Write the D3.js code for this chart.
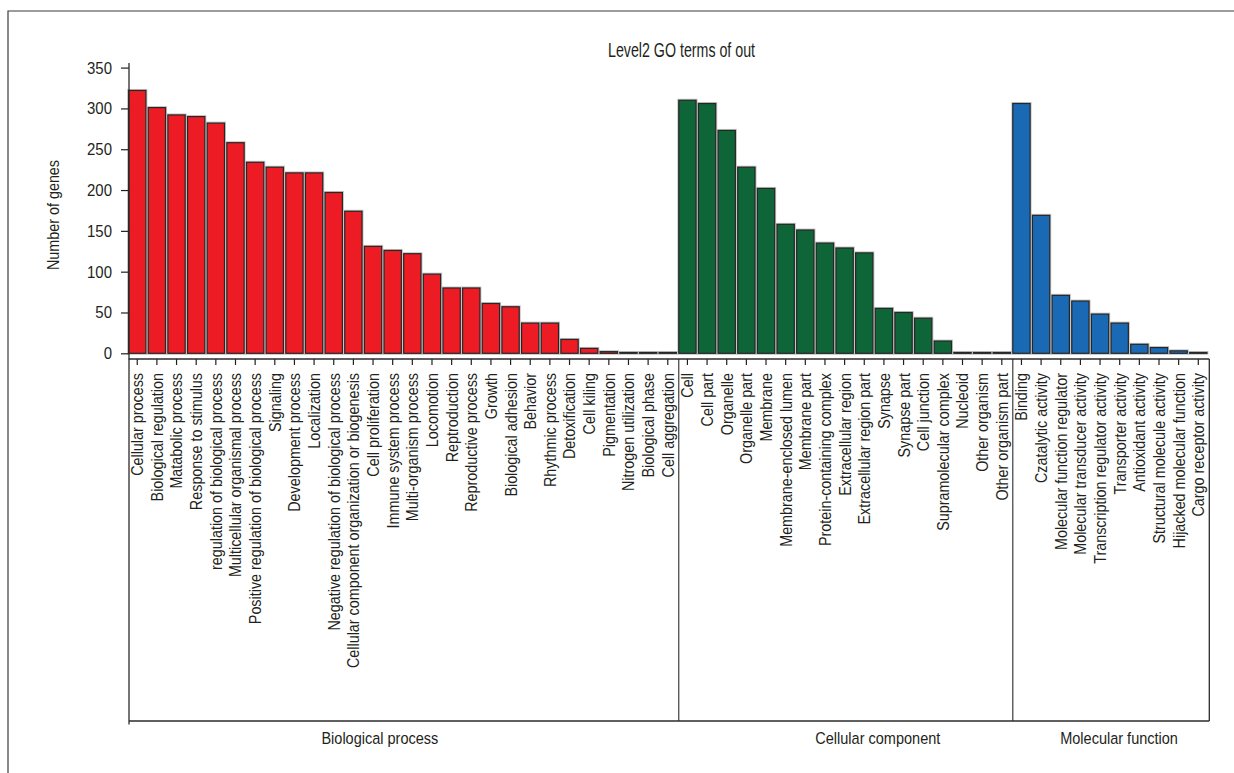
<!DOCTYPE html>
<html>
<head>
<meta charset="utf-8">
<script src="https://cdn.jsdelivr.net/npm/d3@7"></script>
<style>
  html, body { margin: 0; padding: 0; background: #fff; }
  svg { display: block; }
  text { font-family: 'Liberation Sans', Arial, sans-serif; fill: #231f20; }
</style>
</head>
<body>
<svg id="chart" width="1234" height="773"></svg>
<script>
// GO level-2 term counts, one pair of arrays per ontology
const bpTerms = [
  "Cellular process", "Biological regulation", "Matabolic process", "Response to stimulus",
  "regulation of biological process", "Multicellular organismal process",
  "Positive regulation of biological process", "Signaling", "Development process", "Localization",
  "Negative regulation of biological process", "Cellular component organization or biogenesis",
  "Cell proliferation", "Immune system process", "Multi-organism process", "Locomotion",
  "Reptroduction", "Reproductive process", "Growth", "Biological adhesion", "Behavior",
  "Rhythmic process", "Detoxification", "Cell kiling", "Pigmentation", "Nitrogen utilization",
  "Biological phase", "Cell aggregation"
];
const bpCounts = [322, 301, 292, 290, 282, 258, 234, 228, 221, 221, 197, 174, 131, 126, 122, 97,
  80, 80, 61, 57, 37, 37, 17, 6, 2, 1, 1, 1];

const ccTerms = [
  "Cell", "Cell part", "Organelle", "Organelle part", "Membrane", "Membrane-enclosed lumen",
  "Membrane part", "Protein-containing complex", "Extracellular region", "Extracellular region part",
  "Synapse", "Synapse part", "Cell junction", "Supramolecular complex", "Nucleoid",
  "Other organism", "Other organism part"
];
const ccCounts = [310, 306, 273, 228, 202, 158, 151, 135, 129, 123, 55, 50, 43, 15, 1, 1, 1];

const mfTerms = [
  "Binding", "Czatalytic activity", "Molecular function regulator", "Molecular transducer activity",
  "Transcription regulator activity", "Transporter activity", "Antioxidant activity",
  "Structural molecule activity", "Hijacked molecular function", "Cargo receptor activity"
];
const mfCounts = [306, 169, 71, 64, 48, 37, 11, 7, 3, 1];

const groupNames = ["Biological process", "Cellular component", "Molecular function"];
const groupColors = ["#ed1c24", "#0e6537", "#1a69b4"];
const yTickValues = [0, 50, 100, 150, 200, 250, 300, 350];
const chartTitle = "Level2 GO terms of out";
const yAxisTitle = "Number of genes";

// flatten into one row per bar
const groups = [
  { name: groupNames[0], terms: bpTerms, counts: bpCounts, color: groupColors[0] },
  { name: groupNames[1], terms: ccTerms, counts: ccCounts, color: groupColors[1] },
  { name: groupNames[2], terms: mfTerms, counts: mfCounts, color: groupColors[2] }
];
const rows = [];
groups.forEach((g, gi) => {
  g.terms.forEach((t, i) => rows.push({ term: t, value: g.counts[i], color: g.color, group: gi }));
});

const svg = d3.select("#chart");
const ink = "#231f20";
const narrow = 0.87;   // horizontal squeeze giving a condensed face
const fs = 16.5;       // body text size

const x = d3.scaleBand()
  .domain(d3.range(rows.length))
  .range([128.6, 1209.3])
  .paddingInner(0.12)
  .paddingOuter(0.06)
  .align(0);

const y = d3.scaleLinear().domain([0, 350]).range([353.3, 67.6]);

const axisY = 359;      // x-axis line
const boxBottom = 721;  // bottom of the label box
const left = x.range()[0];
const right = x.range()[1];

// condensed horizontal text helper
function narrowText(parent, tx, ty, str, size, squeeze, anchor) {
  return parent.append("text")
    .attr("transform", `translate(${tx},${ty}) scale(${squeeze},1)`)
    .attr("text-anchor", anchor || "middle")
    .style("font-size", size + "px")
    .text(str);
}

// outer frame
svg.append("path")
  .attr("d", "M8,773V11H1234")
  .attr("fill", "none")
  .attr("stroke", "#3a3a3a")
  .attr("stroke-width", 1.2);

// title
narrowText(svg, 681.5, 57, chartTitle, 19.5, 0.73);

// bars: soft grey halo under a dark outline
const bars = svg.append("g");
bars.selectAll("rect.halo")
  .data(rows).join("rect")
  .attr("class", "halo")
  .attr("x", (d, i) => x(i)).attr("y", d => y(d.value))
  .attr("width", x.bandwidth()).attr("height", d => y(0) - y(d.value))
  .attr("fill", "none").attr("stroke", "#c4c4c4").attr("stroke-width", 3);
bars.selectAll("rect.bar")
  .data(rows).join("rect")
  .attr("class", "bar")
  .attr("x", (d, i) => x(i)).attr("y", d => y(d.value))
  .attr("width", x.bandwidth()).attr("height", d => y(0) - y(d.value))
  .attr("fill", d => d.color).attr("stroke", "#262626").attr("stroke-width", 1.2);

// y axis
const gy = svg.append("g").attr("transform", `translate(129,0)`)
  .call(d3.axisLeft(y).tickValues(yTickValues).tickSize(8).tickPadding(9));
gy.select(".domain").remove();
gy.attr("font-family", null).attr("font-size", null);
gy.selectAll(".tick line").attr("stroke", ink).attr("stroke-width", 1.2);
gy.selectAll(".tick text")
  .attr("x", 0)
  .attr("transform", `translate(-17,0) scale(0.88,1)`)
  .attr("fill", ink)
  .style("font-size", "17px");

// y axis title
svg.append("text")
  .attr("transform", `translate(58.5,215) rotate(-90) scale(${narrow},1)`)
  .attr("text-anchor", "middle")
  .style("font-size", fs + "px")
  .text(yAxisTitle);

// x axis with rotated term labels
const gx = svg.append("g").attr("transform", `translate(0,${axisY})`)
  .call(d3.axisBottom(x).tickSize(6).tickFormat(i => rows[i].term));
gx.select(".domain").remove();
gx.attr("font-family", null).attr("font-size", null);
gx.selectAll(".tick line").attr("stroke", ink).attr("stroke-width", 1.2);
gx.selectAll(".tick text")
  .attr("transform", `rotate(-90) translate(-14,0) scale(${narrow},1)`)
  .attr("x", 0).attr("y", 0).attr("dy", "0.36em")
  .attr("text-anchor", "end")
  .attr("fill", ink)
  .style("font-size", fs + "px");

// axis lines and the label box with group separators
const lines = svg.append("g").attr("stroke", "#2b2b2b").attr("stroke-width", 1.3).attr("fill", "none");
lines.append("line").attr("x1", 129).attr("x2", 129).attr("y1", 63).attr("y2", 724.5);
lines.append("line").attr("x1", left).attr("x2", right).attr("y1", axisY).attr("y2", axisY);
lines.append("line").attr("x1", right).attr("x2", right).attr("y1", axisY).attr("y2", boxBottom);
lines.append("line").attr("x1", 129).attr("x2", right).attr("y1", boxBottom).attr("y2", boxBottom);

let start = 0;
const groupSpans = groups.map(g => {
  const s = start; start += g.terms.length;
  return [s, start - 1];
});
groupSpans.slice(1).forEach(([s]) => {
  lines.append("line").attr("x1", x(s)).attr("x2", x(s)).attr("y1", axisY).attr("y2", boxBottom)
    .attr("stroke-width", 1.1);
});

// group names beneath the box
const labelShift = [-24, 32, 8];
const gLabels = svg.append("g");
groups.forEach((g, gi) => {
  const [s, e] = groupSpans[gi];
  const x0 = gi === 0 ? 129 : x(s);
  const x1 = gi === groups.length - 1 ? right : x(e + 1);
  narrowText(gLabels, (x0 + x1) / 2 + labelShift[gi], 743.5, g.name, fs, 0.88);
});
</script>
</body>
</html>
